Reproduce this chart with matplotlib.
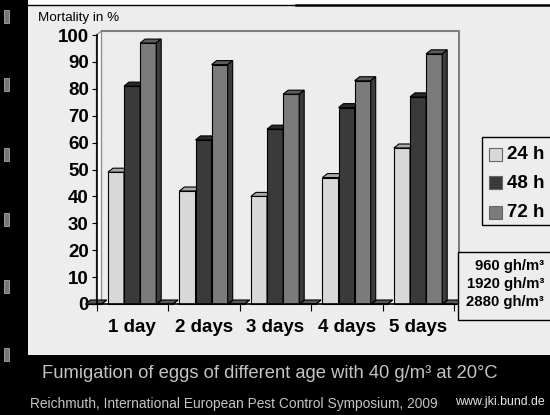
import matplotlib.pyplot as plt
from matplotlib.patches import Rectangle, Polygon

plt.rcParams['font.family'] = ['Liberation Sans', 'DejaVu Sans']

# data
categories = ["1 day", "2 days", "3 days", "4 days", "5 days"]
series = ["24 h", "48 h", "72 h"]
mort_24h = [49, 42, 40, 47, 58]
mort_48h = [81, 61, 65, 73, 77]
mort_72h = [97, 89, 78, 83, 93]
dose_labels = ["960 gh/m³", "1920 gh/m³", "2880 gh/m³"]
yticks = [0, 10, 20, 30, 40, 50, 60, 70, 80, 90, 100]

W, H = 550, 415


def fx(x):
    return x / W


def fy(y):
    return 1 - y / H


fig = plt.figure(figsize=(5.5, 4.15), dpi=100, facecolor="black")

# slide background
fig.patches.append(Rectangle((fx(28), fy(5)), fx(522), 5 / H, transform=fig.transFigure,
                             facecolor="white", edgecolor="none", zorder=-5))
fig.patches.append(Rectangle((fx(28), fy(355)), fx(522), 350 / H, transform=fig.transFigure,
                             facecolor="#ededed", edgecolor="none", zorder=-5))
fig.lines.append(plt.Line2D([fx(28), fx(296)], [fy(5.5), fy(5.5)], transform=fig.transFigure,
                            color="black", lw=1.0, zorder=-4))
fig.lines.append(plt.Line2D([fx(296), 1], [fy(5.5), fy(5.5)], transform=fig.transFigure,
                            color="black", lw=1.8, zorder=-4))
# film strip marks on the left
for yy in [10, 78, 148, 213, 280, 348]:
    fig.patches.append(Rectangle((fx(4), fy(yy + 13)), 5 / W, 13 / H, transform=fig.transFigure,
                                 facecolor="#777777", edgecolor="#aaaaaa", lw=0.6, zorder=-4))

ax = fig.add_axes([fx(96.5), fy(304), 357.5 / W, 269 / H])
ax.set_zorder(2)
ax.set_xlim(0, 5)
ax.set_ylim(0, 100)
ax.patch.set_visible(False)

dx = 5 / 71.5
dy = 4 / 2.69
bw = 0.225
clip = Rectangle((0, -20), 20, 200, transform=ax.transData)

# walls
wall = Polygon([(0, 0), (dx, dy), (dx, 100 + dy), (0, 100)], closed=True,
               facecolor="white", edgecolor="#909090", lw=1, clip_on=False, zorder=1)
ax.add_patch(wall)
ax.plot([dx, 5 + dx, 5 + dx], [100 + dy, 100 + dy, dy], color="#808080", lw=1.5,
        clip_on=False, zorder=1)
ax.plot([5, 5 + dx], [0, dy], color="#808080", lw=1, clip_on=False, zorder=1)


def bar3d(x0, h, face, top, side, z):
    kw = dict(edgecolor="black", lw=0.8, clip_on=False, zorder=z)
    pats = [
        Rectangle((x0, 0), bw, h, facecolor=face, **kw),
        Polygon([(x0, h), (x0 + bw, h), (x0 + bw + dx, h + dy), (x0 + dx, h + dy)],
                closed=True, facecolor=top, **kw),
        Polygon([(x0 + bw, 0), (x0 + bw + dx, dy), (x0 + bw + dx, h + dy), (x0 + bw, h)],
                closed=True, facecolor=side, **kw),
    ]
    for p in pats:
        ax.add_patch(p)
        p.set_clip_path(clip)


styles = [("#d8d8d8", "#a8a8a8", "#888888"),
          ("#3a3a3a", "#2a2a2a", "#222222"),
          ("#7b7b7b", "#5c5c5c", "#3c3c3c")]
z = 2
for i in range(len(categories)):
    bar3d(i - 0.154, 0, "#555555", "#5a5a5a", "#444444", z)
    z += 1
    for j, vals in enumerate([mort_24h, mort_48h, mort_72h]):
        bar3d(i + 0.16 + j * bw, vals[i], *styles[j], z)
        z += 1
bar3d(5 - 0.154, 0, "#555555", "#5a5a5a", "#444444", z)

for s in ["top", "right"]:
    ax.spines[s].set_visible(False)
for s in ["left", "bottom"]:
    ax.spines[s].set_color("black")
    ax.spines[s].set_linewidth(1.2)
    ax.spines[s].set_zorder(50)

ax.set_yticks(yticks)
ax.tick_params(axis="y", length=3.5, width=0.8, pad=2, labelsize=13.5)
for t in ax.get_yticklabels():
    t.set_fontweight("bold")
ax.set_xticks(range(6))
ax.set_xticklabels([])
ax.tick_params(axis="x", which="major", length=5, width=0.8)
ax.set_xticks([i + 0.5 for i in range(5)], minor=True)
ax.set_xticklabels(categories, minor=True, fontsize=13.5, fontweight="bold")
ax.tick_params(axis="x", which="minor", length=0, pad=11)

fig.text(fx(38), fy(18), "Mortality in %", fontsize=9.7, va="center", ha="left")

# legend box
fig.patches.append(Rectangle((fx(482), fy(225)), 80 / W, 88 / H, transform=fig.transFigure,
                             facecolor="#ededed", edgecolor="black", lw=1, zorder=5))
for k, (name, st) in enumerate(zip(series, styles)):
    yc = 154 + k * 29
    fig.patches.append(Rectangle((fx(489), fy(yc + 6.5)), 13 / W, 13 / H, transform=fig.transFigure,
                                 facecolor=st[0], edgecolor="#666666", lw=0.8, zorder=6))
    fig.text(fx(507), fy(yc), name, fontsize=13.5, fontweight="bold", va="center", ha="left",
             zorder=6)

# dose box
fig.patches.append(Rectangle((fx(458), fy(320)), 100 / W, 68 / H, transform=fig.transFigure,
                             facecolor="#ededed", edgecolor="black", lw=1, zorder=5))
for k, lab in enumerate(dose_labels):
    fig.text(fx(544), fy(266 + k * 18), lab, fontsize=10.7, fontweight="bold",
             va="center", ha="right", zorder=6)

fig.text(fx(42), fy(374), "Fumigation of eggs of different age with 40 g/m³ at 20°C",
         fontsize=13.2, color="#c4c4c4", va="center", ha="left")
fig.text(fx(30), fy(404), "Reichmuth, International European Pest Control Symposium, 2009",
         fontsize=9.9, color="#c4c4c4", va="center", ha="left")
fig.text(fx(545), fy(402), "www.jki.bund.de", fontsize=8.9, color="#e6e6e6",
         va="center", ha="right")

fig.savefig("out.png", dpi=100, facecolor=fig.get_facecolor())
